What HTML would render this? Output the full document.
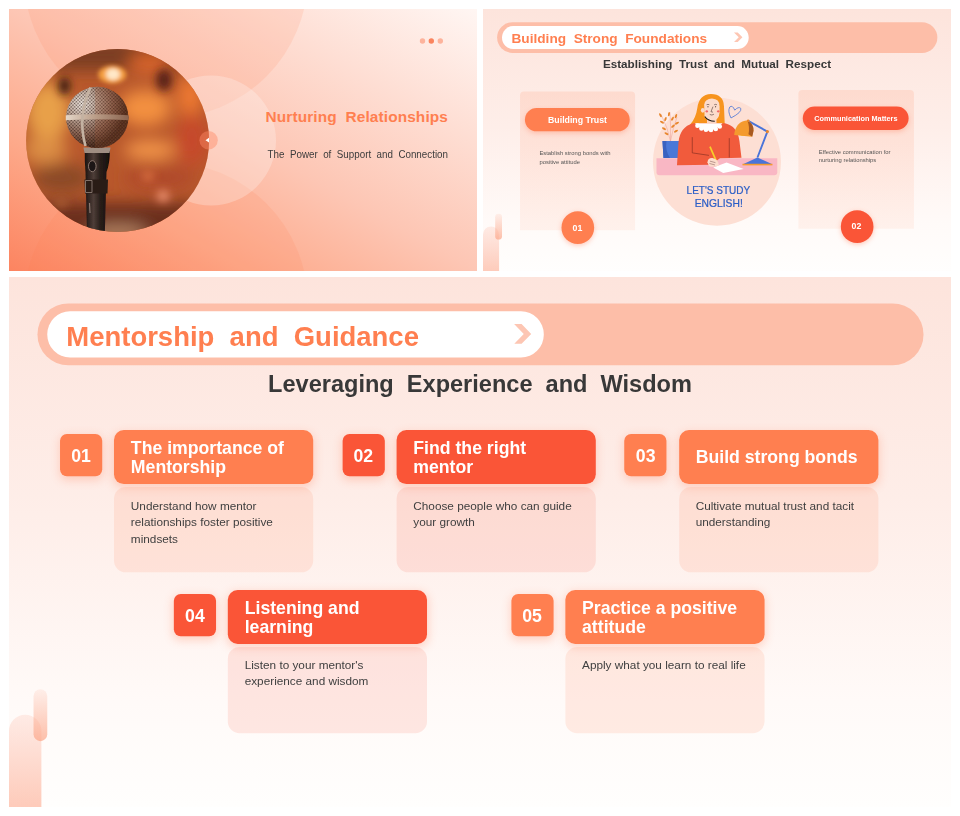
<!DOCTYPE html>
<html><head><meta charset="utf-8">
<style>
*{margin:0;padding:0;box-sizing:border-box}
html,body{width:960px;height:816px;background:#fff;overflow:hidden;font-family:"Liberation Sans",sans-serif}
.panel{position:absolute;overflow:hidden}
#p1{left:9px;top:9px;width:468px;height:262px}
#p2{left:483px;top:9px;width:468px;height:262px}
#p3{left:9px;top:277px;width:942px;height:530px}
.slide{position:absolute;left:0;top:0;width:960px;height:540px;transform-origin:0 0;overflow:hidden;
 background:linear-gradient(180deg,#fde4dc 0%,#feeee9 45%,#fffaf8 80%,#fffefd 100%)}
#p2 .slide{transform:scale(0.4875)}
#p3 .slide{transform:scale(0.98125)}
.abs{position:absolute}
.pill-out{position:absolute;left:28.5px;top:26.5px;width:903px;height:63px;border-radius:31.5px;background:#fdbea8}
.pill-in{position:absolute;left:38.7px;top:35.2px;width:506.5px;height:46.4px;border-radius:23.2px;background:#fff}
.chev{position:absolute;left:510px;top:45px;width:26px;height:26px}
.ttl{position:absolute;left:58.4px;top:46.9px;font-size:28px;line-height:28px;font-weight:bold;color:#ff7f50;white-space:pre}
.sub{position:absolute;left:0;width:960px;text-align:center;top:96.1px;font-size:24px;line-height:24px;font-weight:bold;color:#383838;white-space:pre}
.num{position:absolute;width:43px;height:43px;border-radius:7px;color:#fff;font-weight:bold;font-size:18px;padding-top:4px;display:flex;align-items:center;justify-content:center;box-shadow:0 3px 10px rgba(255,110,70,.28)}
.tb{position:absolute;width:203px;height:54.9px;border-radius:10px;color:#fff;font-weight:bold;font-size:18px;line-height:20px;display:flex;align-items:center;padding:2px 17px 0 17px;box-shadow:0 3px 10px rgba(255,110,70,.28)}
.db{position:absolute;width:203px;height:87px;border-radius:12px;color:#404040;font-size:12px;line-height:17px;padding:10.8px 17px 0 17px;background:rgba(255,127,80,.13)}
.db.r{background:rgba(250,85,55,.12)}
.c1{background:#ff7f50}
.c2{background:#fa5537}
.decoA{position:absolute;left:0;top:445.8px;width:33.2px;height:100px;border-radius:16.6px 16.6px 0 0;background:linear-gradient(180deg,rgba(253,205,192,.35),rgba(253,175,150,.68))}
.decoB{position:absolute;left:24.8px;top:420.3px;width:14px;height:52.7px;border-radius:7px;background:linear-gradient(180deg,rgba(253,205,190,.25),rgba(252,165,135,.7))}
.card2{position:absolute;width:236.5px;height:285.4px;border-radius:8px 8px 0 0;background:linear-gradient(180deg,rgba(255,127,80,.15),rgba(255,127,80,.08))}
.btn{position:absolute;height:48px;border-radius:24px;color:#fff;font-weight:bold;display:flex;align-items:center;justify-content:center;box-shadow:0 4px 10px rgba(255,110,70,.3)}
.d2{position:absolute;font-size:12px;line-height:16.7px;color:#555;white-space:nowrap}
.circ{position:absolute;width:67.2px;height:67.2px;border-radius:50%;color:#fff;font-weight:bold;font-size:18px;padding:1px 2px 0 0;display:flex;align-items:center;justify-content:center;box-shadow:0 3px 10px rgba(255,110,70,.35)}
</style></head><body>

<!-- PANEL 1 -->
<div class="panel" id="p1">
<svg width="468" height="262" viewBox="9 9 468 262" style="position:absolute;left:0;top:0">
  <defs>
    <linearGradient id="g1bg" x1="0" y1="1" x2="1" y2="0">
      <stop offset="0" stop-color="#fc8460"/>
      <stop offset="0.25" stop-color="#fda98a"/>
      <stop offset="0.5" stop-color="#fdc6b4"/>
      <stop offset="1" stop-color="#fff6f3"/>
    </linearGradient>
    <clipPath id="micclip"><circle cx="117.6" cy="140.6" r="91.5"/></clipPath>
    <clipPath id="headclip"><ellipse cx="97.2" cy="117.4" rx="31.2" ry="30.6"/></clipPath>
    <filter id="bl8" x="-50%" y="-50%" width="200%" height="200%"><feGaussianBlur stdDeviation="8"/></filter>
    <filter id="bl4" x="-50%" y="-50%" width="200%" height="200%"><feGaussianBlur stdDeviation="4"/></filter>
    <filter id="bl2" x="-50%" y="-50%" width="200%" height="200%"><feGaussianBlur stdDeviation="2.2"/></filter>
    <filter id="bl1" x="-10%" y="-10%" width="120%" height="120%"><feGaussianBlur stdDeviation="0.45"/></filter>
    <radialGradient id="headg" gradientUnits="userSpaceOnUse" cx="82" cy="104" r="44">
      <stop offset="0" stop-color="#fbf4ee"/>
      <stop offset="0.35" stop-color="#c8b0a2"/>
      <stop offset="0.7" stop-color="#8e6452"/>
      <stop offset="1" stop-color="#4a2a1c"/>
    </radialGradient>
    <pattern id="mesh" width="2.4" height="2.4" patternUnits="userSpaceOnUse" patternTransform="rotate(45)">
      <circle cx="1.2" cy="1.2" r="0.8" fill="#24140c" opacity="0.72"/>
      <circle cx="0" cy="0" r="0.45" fill="#fff2e6" opacity="0.35"/>
    </pattern>
    <linearGradient id="handg" x1="0" x2="1">
      <stop offset="0" stop-color="#1a1210"/>
      <stop offset="0.35" stop-color="#4e3e38"/>
      <stop offset="0.6" stop-color="#2a1e1a"/>
      <stop offset="1" stop-color="#140e0c"/>
    </linearGradient>
    <linearGradient id="bandg" x1="0" x2="1">
      <stop offset="0" stop-color="#e4d6c8"/>
      <stop offset="0.5" stop-color="#b89a84"/>
      <stop offset="1" stop-color="#8a6450"/>
    </linearGradient>
  </defs>
  <rect x="9" y="9" width="468" height="262" fill="url(#g1bg)"/>
  <circle cx="166" cy="-24" r="142" fill="#ff7f50" opacity="0.13"/>
  <circle cx="166" cy="304" r="142" fill="#ff7f50" opacity="0.13"/>
  <circle cx="211" cy="140.5" r="65" fill="#fff" opacity="0.25"/>
  <!-- mic photo -->
  <g clip-path="url(#micclip)">
    <rect x="20" y="40" width="200" height="200" fill="#b8582c"/>
    <g filter="url(#bl8)">
      <rect x="20" y="40" width="200" height="30" fill="#7a3c22"/>
      <ellipse cx="150" cy="62" rx="22" ry="10" fill="#d8642c"/>
      <ellipse cx="48" cy="112" rx="22" ry="30" fill="#e8a048"/>
      <ellipse cx="45" cy="150" rx="22" ry="14" fill="#dc8e44"/>
      <ellipse cx="145" cy="108" rx="26" ry="18" fill="#f39040"/>
      <ellipse cx="190" cy="96" rx="12" ry="20" fill="#f07a32"/>
      <ellipse cx="192" cy="140" rx="16" ry="26" fill="#c64a2a"/>
      <ellipse cx="150" cy="150" rx="26" ry="10" fill="#f29448"/>
      <ellipse cx="160" cy="178" rx="36" ry="12" fill="#b04a2a"/>
      <ellipse cx="62" cy="178" rx="30" ry="14" fill="#8a4a28"/>
      <rect x="20" y="203" width="200" height="40" fill="#6a2e1c"/>
      <ellipse cx="118" cy="232" rx="30" ry="8" fill="#b08060"/>
    </g>
    <g filter="url(#bl4)">
      <ellipse cx="64.5" cy="86" rx="6" ry="9" fill="#3e1c10"/>
      <ellipse cx="164" cy="80" rx="8" ry="11" fill="#5a2418"/>
      <ellipse cx="163" cy="196" rx="6.5" ry="6" fill="#e88c6c"/>
      <ellipse cx="148" cy="176" rx="6" ry="5" fill="#d87040"/>
      <ellipse cx="61.5" cy="203" rx="6" ry="5" fill="#a85a30"/>
    </g>
    <g filter="url(#bl2)">
      <ellipse cx="112.3" cy="74.5" rx="14" ry="9" fill="#f6a040"/>
      <ellipse cx="113" cy="74.3" rx="7" ry="6" fill="#ffe8c8"/>
    </g>
    <!-- mic -->
    <g filter="url(#bl1)">
      <path d="M84.8 151 L110 151 Q109.5 165 106.5 172 L104.8 234 L87 234 L85.5 172 Q84.5 160 84.8 151 Z" fill="url(#handg)"/>
      <path d="M84.5 179.5 L108 179.5 L107.5 193.5 L85 193.5 Z" fill="#2a1d19"/><path d="M85.5 180.5 L92 180.5 L92 192.5 L85.5 192.5 Z" fill="none" stroke="#8a7870" stroke-width="0.9"/>
      <ellipse cx="92.3" cy="166.2" rx="3.8" ry="5.5" fill="#1e1512" stroke="#8a7870" stroke-width="1"/><path d="M89.5 203 L90 213" stroke="#8a7870" stroke-width="1.2"/>
      <path d="M83.5 147.5 L110.5 147.5 L109.5 153 L84.5 153 Z" fill="#a08e82"/>
      <g clip-path="url(#headclip)">
        <rect x="60" y="80" width="75" height="75" fill="url(#headg)"/>
        <rect x="60" y="80" width="75" height="75" fill="url(#mesh)"/>
        <rect x="95" y="80" width="40" height="75" fill="#9a5030" opacity="0.22"/>
      </g>
      <path d="M65.8 115.2 Q97 113.2 128.6 115.2 L128.6 120.2 Q97 118.2 65.8 120.2 Z" fill="url(#bandg)"/>
      <path d="M90.5 87.5 Q77 116 85.5 146" fill="none" stroke="#c4b2a2" stroke-width="2.6"/>
    </g>
  </g>
  <circle cx="208.6" cy="140.2" r="9.2" fill="#ff8a66" opacity="0.45"/>
  <path d="M205.5 140.2 L209 137.8 L209 142.6 Z" fill="#fff"/>
  <circle cx="422.5" cy="41" r="2.7" fill="#fdb39c"/>
  <circle cx="431.3" cy="41" r="2.7" fill="#fa845e"/>
  <circle cx="440.3" cy="41" r="2.7" fill="#fdb39c"/>
</svg>
<div class="abs" style="right:29px;width:400px;text-align:right;white-space:pre;font-weight:bold;color:#ff7f50;font-size:15.4px;line-height:16px;top:99.6px;letter-spacing:0.12px">Nurturing  Relationships</div>
<div class="abs" style="right:29px;width:400px;text-align:right;white-space:pre;color:#3c3c3c;font-size:10.5px;line-height:10px;top:139.6px;transform:scaleX(0.934);transform-origin:100% 50%">The  Power  of  Support  and  Connection</div>
</div>

<!-- PANEL 2 -->
<div class="panel" id="p2"><div class="slide">
  <div class="pill-out"></div>
  <div class="pill-in"></div>
  <svg class="chev" viewBox="510 45 26 26"><path d="M514.75 48 L522.4 48 L532.2 58.1 L522.4 67.9 L514.95 67.9 L524.6 58.1 Z" fill="#fdc6b3"/></svg>
  <div class="ttl">Building  Strong  Foundations</div>
  <div class="sub" style="top:100.8px">Establishing  Trust  and  Mutual  Respect</div>
  <div class="card2" style="left:75.7px;top:168.6px"></div>
  <div class="btn c1" style="left:86.2px;top:203px;width:215.3px;font-size:18px">Building Trust</div>
  <div class="d2" style="left:115.7px;top:288px">Establish strong bonds with<br>positive attitude</div>
  <div class="circ c1" style="left:161.1px;top:415.2px">01</div>

  <div class="card2" style="left:647px;top:165.7px"></div>
  <div class="btn c2" style="left:656.4px;top:199.8px;width:216.8px;font-size:15px">Communication Matters</div>
  <div class="d2" style="left:688.7px;top:285.5px">Effective communication for<br>nurturing relationships</div>
  <div class="circ c2" style="left:733.5px;top:412.9px">02</div>

  <svg class="abs" style="left:322.05px;top:145.64px;width:328.2px;height:328.2px" viewBox="640 80 160 160">
    <circle cx="717" cy="161.5" r="64" fill="#fddfd4"/>
    <!-- plant -->
    <g stroke="#f0a89c" stroke-width="0.6" fill="none">
      <path d="M670.5 141 Q668 128 661 114"/>
      <path d="M670.5 141 Q671 126 670 112"/>
      <path d="M670.5 141 Q673 128 677 117"/>
    </g>
    <g fill="#e8862c">
      <ellipse cx="660.5" cy="115" rx="1" ry="2.2" transform="rotate(-30 660.5 115)"/>
      <ellipse cx="662" cy="122" rx="1" ry="2.2" transform="rotate(-60 662 122)"/>
      <ellipse cx="665.5" cy="119" rx="1" ry="2.2" transform="rotate(20 665.5 119)"/>
      <ellipse cx="664" cy="128.5" rx="1" ry="2.2" transform="rotate(-60 664 128.5)"/>
      <ellipse cx="669" cy="114" rx="1" ry="2.2" transform="rotate(10 669 114)"/>
      <ellipse cx="672.5" cy="118.5" rx="1" ry="2.2" transform="rotate(30 672.5 118.5)"/>
      <ellipse cx="676" cy="116" rx="1" ry="2.2" transform="rotate(20 676 116)"/>
      <ellipse cx="677" cy="123" rx="1" ry="2.2" transform="rotate(60 677 123)"/>
      <ellipse cx="673" cy="126" rx="1" ry="2.2" transform="rotate(50 673 126)"/>
      <ellipse cx="666.5" cy="133.5" rx="1" ry="2.2" transform="rotate(-60 666.5 133.5)"/>
      <ellipse cx="676" cy="131" rx="1" ry="2.2" transform="rotate(60 676 131)"/>
    </g>
    <path d="M662.5 140.8 L679.2 140.8 L678.5 157.8 L663.5 157.8 Z" fill="#4a78d8"/>
    <path d="M662.5 140.8 L666.5 140.8 Q665 150 670 157.8 L663.5 157.8 Z" fill="#3a62c0"/>
    <!-- desk -->
    <path d="M656.5 158.2 L777.3 158.2 L777.3 172 Q777.3 175 774.3 175 L659.5 175 Q656.5 175 656.5 172 Z" fill="#f9b7c4"/>
    <!-- hair back -->
    <path d="M689.8 124.8 Q696 118 697.3 108 Q699 94.3 711 93.8 Q723.5 94 724 106 L724.8 124.8 Z" fill="#f7941e"/>
    <!-- neck -->
    <rect x="707" y="116" width="9.5" height="8" fill="#fbd3c0"/>
    <!-- face -->
    <path d="M704.2 104.5 Q705 98.6 712 98.4 Q719.6 98.8 719.6 106 L719.6 112 Q719.2 119.3 713 120.9 Q707.5 120.6 704.6 116.5 Z" fill="#fcdccc"/>
    <ellipse cx="702.8" cy="110.2" rx="1.9" ry="2.4" fill="#fcdccc"/>
    <path d="M706.6 104.6 Q708 103.8 709.4 104.6 M714.2 104.6 Q715.6 103.8 717 104.6" stroke="#3a2a2a" stroke-width="0.55" fill="none"/>
    <circle cx="708" cy="106.6" r="0.6" fill="#2a1a1a"/><circle cx="715.6" cy="106.6" r="0.6" fill="#2a1a1a"/>
    <circle cx="706.8" cy="111.2" r="1.2" fill="#f26868"/>
    <circle cx="718.3" cy="111.2" r="1.2" fill="#f26868"/>
    <path d="M713 106.5 L711 111.5 L713 112 M709.8 114.3 Q712 115.6 714 114" stroke="#3a2a2a" stroke-width="0.55" fill="none"/>
    <path d="M704.8 116.3 Q708 120.9 714.8 121.1" stroke="#151515" stroke-width="1.1" fill="none"/>
    <!-- sweater -->
    <path d="M677 165 L678.5 142 Q680 127 693 123.2 L725 123.2 Q737.5 126 739.5 141 L741.5 157.5 L720 158 L711 164.5 Z" fill="#f15b3c"/>
    <path d="M692.3 137 L692.3 152.7 L709 155.2 M729.3 138 L729.3 157.3" stroke="#7a2a1e" stroke-width="0.6" fill="none"/>
    <!-- collar -->
    <g fill="#fff">
      <path d="M695 123 L722.5 123 Q716 130 709 130.5 Q700 130 695 123 Z"/>
      <circle cx="697.5" cy="125.5" r="2.3"/><circle cx="701.5" cy="128.3" r="2.3"/><circle cx="706" cy="129.6" r="2.3"/>
      <circle cx="711" cy="129.8" r="2.3"/><circle cx="715.8" cy="128.8" r="2.3"/><circle cx="719.8" cy="126.3" r="2.3"/>
    </g>
    <!-- paper -->
    <path d="M713.3 167.3 L726.6 162.3 L743.7 168.9 L723.2 172.8 Z" fill="#fff"/>
    <!-- pencil -->
    <path d="M710 146.5 L716.8 162" stroke="#f7cf2a" stroke-width="1.7"/>
    <!-- hand -->
    <path d="M707.5 162 Q708 157.5 712.5 157.8 Q718.5 159 719 165 Q714 167.5 709 166 Z" fill="#fcdccc"/>
    <path d="M710 161 L715.5 162.5 M709.5 163.3 L715 164.8" stroke="#6a4040" stroke-width="0.45"/>
    <!-- lamp -->
    <path d="M748.6 121 L767.4 131.4 L757.5 157.3" stroke="#4a74d9" stroke-width="1.9" fill="none" stroke-linejoin="round"/>
    <circle cx="767.4" cy="131.4" r="1.6" fill="#e8862c"/>
    <path d="M743 164.2 L757.5 157.3 L772.4 164.2 Z" fill="#4a74d9"/>
    <rect x="742.5" y="163.6" width="30" height="1.6" fill="#f49a2e"/>
    <circle cx="742.5" cy="133.6" r="2.2" fill="#f3e03a"/>
    <path d="M734.2 134.8 Q735.5 121 748 120 Q752 122 753.5 130 L752 136.5 Z" fill="#f49a2e"/>
    <path d="M747.5 120.5 Q754.5 124 753.5 131 L752.3 136.5 L748.5 134 Q750 127 747.5 120.5 Z" fill="#a85a22"/>
    <circle cx="748.2" cy="120.6" r="1.3" fill="#e8862c"/>
    <!-- heart -->
    <path d="M731 117.8 Q727.5 111 729.8 106.8 Q732.5 104.5 734.8 110 Q738.5 106 740.8 108.2 Q742.2 112 731 117.8 Z" stroke="#5b7fd6" stroke-width="0.9" fill="none"/>
    <text x="718.4" y="194.1" text-anchor="middle" font-family="Liberation Sans" font-size="11.4" fill="#2c5ec6" stroke="#2c5ec6" stroke-width="0.25" textLength="63.5" lengthAdjust="spacingAndGlyphs">LET'S STUDY</text>
    <text x="718.8" y="206.6" text-anchor="middle" font-family="Liberation Sans" font-size="11.4" fill="#2c5ec6" stroke="#2c5ec6" stroke-width="0.25" textLength="48" lengthAdjust="spacingAndGlyphs">ENGLISH!</text>
  </svg>
  <div class="decoA"></div><div class="decoB"></div>
</div></div>

<!-- PANEL 3 -->
<div class="panel" id="p3"><div class="slide">
  <div class="pill-out"></div>
  <div class="pill-in"></div>
  <svg class="chev" viewBox="510 45 26 26"><path d="M514.75 48 L522.4 48 L532.2 58.1 L522.4 67.9 L514.95 67.9 L524.6 58.1 Z" fill="#fdc6b3"/></svg>
  <div class="ttl">Mentorship  and  Guidance</div>
  <div class="sub" style="top:97.1px">Leveraging  Experience  and  Wisdom</div>

  <div class="num c1" style="left:52px;top:159.8px">01</div>
  <div class="tb c1" style="left:107.2px;top:155.8px">The importance of Mentorship</div>
  <div class="db" style="left:107.2px;top:214.3px">Understand how mentor relationships foster positive mindsets</div>

  <div class="num c2" style="left:339.5px;top:159.8px">02</div>
  <div class="tb c2" style="left:395px;top:155.8px">Find the right mentor</div>
  <div class="db r" style="left:395px;top:214.3px">Choose people who can guide your growth</div>

  <div class="num c1" style="left:627.3px;top:159.8px">03</div>
  <div class="tb c1" style="left:682.8px;top:155.8px">Build strong bonds</div>
  <div class="db" style="left:682.8px;top:214.3px">Cultivate mutual trust and tacit understanding</div>

  <div class="num c2" style="left:168px;top:323px">04</div>
  <div class="tb c2" style="left:223.2px;top:319px">Listening and learning</div>
  <div class="db r" style="left:223.2px;top:377px;height:88px;padding-top:9.8px">Listen to your mentor's experience and wisdom</div>

  <div class="num c1" style="left:511.6px;top:323px">05</div>
  <div class="tb c1" style="left:567px;top:319px">Practice a positive attitude</div>
  <div class="db" style="left:567px;top:377px;height:88px;padding-top:9.8px">Apply what you learn to real life</div>

  <div class="decoA"></div><div class="decoB"></div>
</div></div>

</body></html>
